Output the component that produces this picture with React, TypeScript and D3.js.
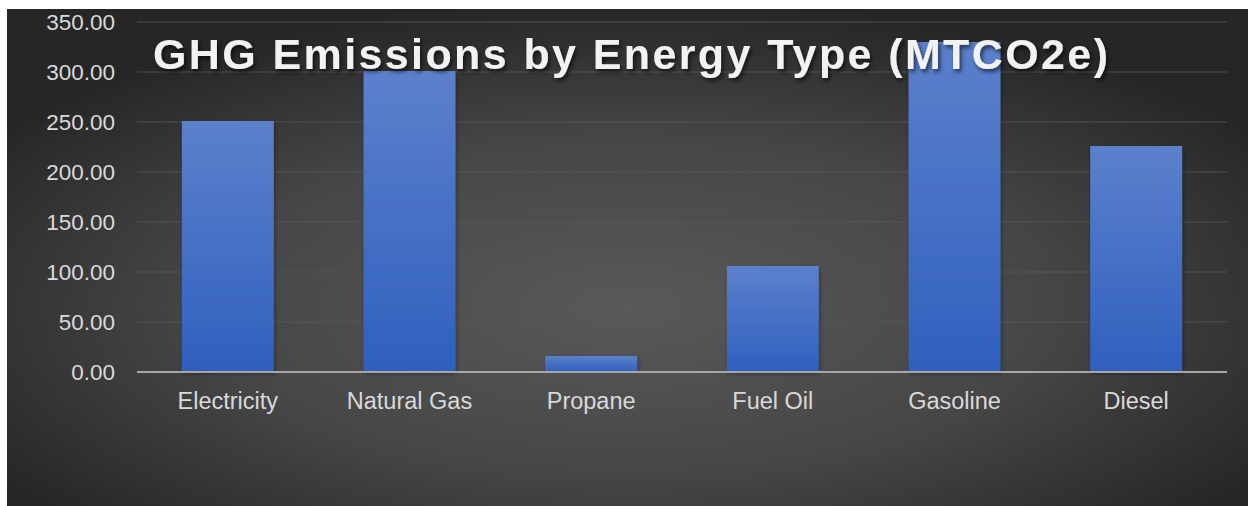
import * as d3 from 'd3';
import React from 'react';

// chart values
const categories = ['Electricity', 'Natural Gas', 'Propane', 'Fuel Oil', 'Gasoline', 'Diesel'];
const emissions = [251, 301, 16, 106, 330, 226];
const yTicks = [0, 50, 100, 150, 200, 250, 300, 350];
const title = 'GHG Emissions by Energy Type (MTCO2e)';

const W = 1252;
const H = 506;

const App: React.FC = () => {
  const x = d3.scaleBand<string>()
    .domain(categories)
    .range([137, 1227])
    .paddingInner(0.494)
    .paddingOuter(0.247);

  const y = d3.scaleLinear()
    .domain([0, 350])
    .range([372, 22]);

  const font = '"Liberation Sans", Arial, sans-serif';

  return (
    <svg width={W} height={H} style={{ position: 'absolute', left: 0, top: 0, display: 'block' }}>
      <defs>
        <radialGradient id="bg" cx="50%" cy="60%" r="62%" fx="50%" fy="60%" gradientUnits="objectBoundingBox">
          <stop offset="0%" stopColor="#595959" />
          <stop offset="55%" stopColor="#464646" />
          <stop offset="100%" stopColor="#262626" />
        </radialGradient>
        <linearGradient id="bar" x1="0" y1="0" x2="0" y2="1">
          <stop offset="0%" stopColor="#5c80cc" />
          <stop offset="100%" stopColor="#2f60be" />
        </linearGradient>
        <filter id="shadow" x="-5%" y="-20%" width="110%" height="150%">
          <feDropShadow dx="2" dy="3" stdDeviation="2" floodColor="#000" floodOpacity="0.6" />
        </filter>
        <filter id="barShadow" x="-10%" y="-5%" width="120%" height="110%">
          <feDropShadow dx="1" dy="2" stdDeviation="2" floodColor="#000" floodOpacity="0.35" />
        </filter>
      </defs>

      <rect x={7} y={9} width={1241} height={H - 9} fill="url(#bg)" />

      {/* gridlines */}
      {yTicks.filter(t => t > 0).map(t => (
        <line key={t} x1={137} x2={1227} y1={y(t)} y2={y(t)} stroke="#575757" strokeOpacity={0.8} strokeWidth={1} />
      ))}

      {/* y tick labels */}
      {yTicks.map(t => (
        <text key={t} x={115} y={y(t)} dy="0.35em" textAnchor="end" fill="#d9d9d9" fontSize={22.5} fontFamily={font}>
          {t.toFixed(2)}
        </text>
      ))}

      {/* bars */}
      {categories.map((c, i) => (
        <rect
          key={c}
          x={x(c)!}
          y={y(emissions[i])}
          width={x.bandwidth()}
          height={y(0) - y(emissions[i])}
          fill="url(#bar)"
          filter="url(#barShadow)"
        />
      ))}

      {/* baseline */}
      <line x1={137} x2={1227} y1={y(0)} y2={y(0)} stroke="#a6a6a6" strokeWidth={2} />

      {/* category labels */}
      {categories.map(c => (
        <text key={c} x={x(c)! + x.bandwidth() / 2} y={409} textAnchor="middle" fill="#d9d9d9" fontSize={23.5} fontFamily={font}>
          {c}
        </text>
      ))}

      <text
        x={153}
        y={69}
        fill="#f2f2f2"
        fontSize={43}
        fontWeight="bold"
        fontFamily={font}
        textLength={955}
        lengthAdjust="spacing"
        filter="url(#shadow)"
      >
        {title}
      </text>
    </svg>
  );
};

export default App;
